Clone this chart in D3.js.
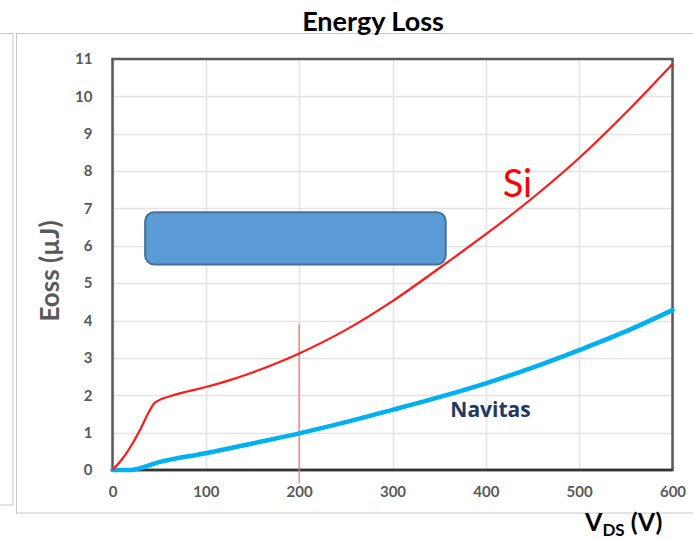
<!DOCTYPE html>
<html>
<head>
<meta charset="utf-8">
<script src="https://cdn.jsdelivr.net/npm/d3@7"></script>
<style>
  html, body { margin: 0; padding: 0; background: #ffffff; }
  svg { display: block; }
</style>
</head>
<body>
<svg id="chart" width="693" height="539"></svg>
<script>
// ---- Data ----
const siVoltage = [0, 10, 20, 30, 40, 45, 50, 60, 80, 100, 125, 150, 175, 200, 250, 300, 350, 400, 450, 500, 550, 600];
const siEoss    = [0, 0.28, 0.65, 1.1, 1.6, 1.79, 1.87, 1.96, 2.1, 2.22, 2.4, 2.61, 2.85, 3.12, 3.75, 4.52, 5.4, 6.31, 7.28, 8.35, 9.56, 10.87];

const navVoltage = [0, 20, 25, 50, 100, 150, 200, 250, 300, 350, 400, 450, 500, 550, 600];
const navEoss    = [0, 0, 0.02, 0.21, 0.45, 0.71, 0.98, 1.28, 1.61, 1.95, 2.32, 2.74, 3.21, 3.71, 4.28];

const xTicks = [0, 100, 200, 300, 400, 500, 600];
const yTicks = [0, 1, 2, 3, 4, 5, 6, 7, 8, 9, 10, 11];

const markerVoltage = 200;     // vertical marker line
const markerTopValue = 3.9;    // its top end (in µJ)

const titleText = "Energy Loss";
const yLabelText = "Eoss (µJ)";
const siLabel = { text: "Si", v: 418, e: 7.3 };
const navLabel = { text: "Navitas", v: 405, e: 1.42 };
const boxRange = { v0: 35, v1: 357, e0: 5.5, e1: 6.9 };

// ---- Layout ----
const svg = d3.select("#chart");
const plot = { left: 112.5, right: 672.5, top: 59, bottom: 470 };

const x = d3.scaleLinear().domain([0, 600]).range([plot.left, plot.right]);
const y = d3.scaleLinear().domain([0, 11]).range([plot.bottom, plot.top]);

const font = "Lato, 'Open Sans', 'DejaVu Sans', sans-serif";

// Frames (slide-like borders)
svg.append("rect").attr("x", -2).attr("y", 33.5).attr("width", 15).attr("height", 471.5)
  .attr("fill", "none").attr("stroke", "#c8c8c8").attr("stroke-width", 1);
svg.append("rect").attr("x", 16.5).attr("y", 33.5).attr("width", 700).attr("height", 479.5)
  .attr("fill", "none").attr("stroke", "#c8c8c8").attr("stroke-width", 1);

// Gridlines
const g = svg.append("g");
g.append("g").selectAll("line").data(yTicks).join("line")
  .attr("x1", plot.left).attr("x2", plot.right)
  .attr("y1", d => Math.round(y(d)) + 0.5).attr("y2", d => Math.round(y(d)) + 0.5)
  .attr("stroke", "#e3e3e3").attr("stroke-width", 1.5);
g.append("g").selectAll("line").data(xTicks).join("line")
  .attr("y1", plot.top).attr("y2", plot.bottom)
  .attr("x1", d => Math.round(x(d)) + 0.5).attr("x2", d => Math.round(x(d)) + 0.5)
  .attr("stroke", "#e3e3e3").attr("stroke-width", 1.5);

// Axes via d3 axis generators (labels only, Excel-like)
const xAxis = svg.append("g").attr("transform", `translate(0,${plot.bottom})`)
  .call(d3.axisBottom(x).tickValues(xTicks).tickSize(0).tickPadding(16).tickFormat(d3.format("d")));
const yAxis = svg.append("g").attr("transform", `translate(${plot.left},0)`)
  .call(d3.axisLeft(y).tickValues(yTicks).tickSize(0).tickPadding(20).tickFormat(d3.format("d")));
[xAxis, yAxis].forEach(a => {
  a.select(".domain").remove();
  a.selectAll("text").attr("fill", "#595959").style("font-family", font)
    .style("font-size", "15px").style("font-weight", "bold");
});

// Plot box
svg.append("rect").attr("x", plot.left).attr("y", plot.top)
  .attr("width", plot.right - plot.left).attr("height", plot.bottom - plot.top)
  .attr("fill", "none").attr("stroke", "#5a5a5a").attr("stroke-width", 2.5);
svg.append("line").attr("x1", plot.left).attr("x2", plot.right)
  .attr("y1", plot.bottom).attr("y2", plot.bottom)
  .attr("stroke", "#333333").attr("stroke-width", 2.5);

// Rounded rectangle shape
svg.append("rect")
  .attr("x", x(boxRange.v0)).attr("y", y(boxRange.e1))
  .attr("width", x(boxRange.v1) - x(boxRange.v0)).attr("height", y(boxRange.e0) - y(boxRange.e1))
  .attr("rx", 9).attr("ry", 9)
  .attr("fill", "#5b9bd5").attr("stroke", "#41719c").attr("stroke-width", 2);

// Marker line at 200 V
svg.append("line")
  .attr("x1", x(markerVoltage)).attr("x2", x(markerVoltage))
  .attr("y1", y(markerTopValue)).attr("y2", plot.bottom + 13)
  .attr("stroke", "#ff7070").attr("stroke-width", 1.3);

// Curves
const line = d3.line().x(d => x(d[0])).y(d => y(d[1])).curve(d3.curveMonotoneX);
const siData = siVoltage.map((v, i) => [v, siEoss[i]]);
const navData = navVoltage.map((v, i) => [v, navEoss[i]]);

svg.append("path").datum(navData).attr("d", line)
  .attr("fill", "none").attr("stroke", "#00b0f0").attr("stroke-width", 4.5)
  .attr("stroke-linejoin", "round").attr("stroke-linecap", "round");
svg.append("path").datum(siData).attr("d", line)
  .attr("fill", "none").attr("stroke", "#ff1a1a").attr("stroke-width", 2.2)
  .attr("stroke-linejoin", "round");

// Labels
svg.append("text").attr("x", x(siLabel.v)).attr("y", y(siLabel.e))
  .attr("fill", "#ff0000").style("font-family", font).style("font-size", "38px")
  .text(siLabel.text);
svg.append("text").attr("x", x(navLabel.v)).attr("y", y(navLabel.e))
  .attr("text-anchor", "middle")
  .attr("fill", "#1f3864").style("font-family", "'Open Sans', Lato, sans-serif").style("font-size", "21px").style("font-weight", "bold")
  .text(navLabel.text);

// Title
svg.append("text").attr("x", 373).attr("y", 31).attr("text-anchor", "middle")
  .attr("fill", "#000").style("font-family", font).style("font-size", "27px").style("font-weight", "bold")
  .text(titleText);

// Y label
svg.append("text").attr("transform", "translate(59,271) rotate(-90)")
  .attr("text-anchor", "middle")
  .attr("fill", "#595959").style("font-family", font).style("font-size", "26px").style("font-weight", "bold")
  .text(yLabelText);

// X label: V_DS (V)
const xl = svg.append("text").attr("x", 585).attr("y", 531)
  .attr("fill", "#000").style("font-family", font).style("font-size", "25px").style("font-weight", "bold");
xl.append("tspan").text("V");
xl.append("tspan").attr("dy", 5).style("font-size", "17px").text("DS");
xl.append("tspan").attr("dy", -5).text(" (V)");
</script>
</body>
</html>
